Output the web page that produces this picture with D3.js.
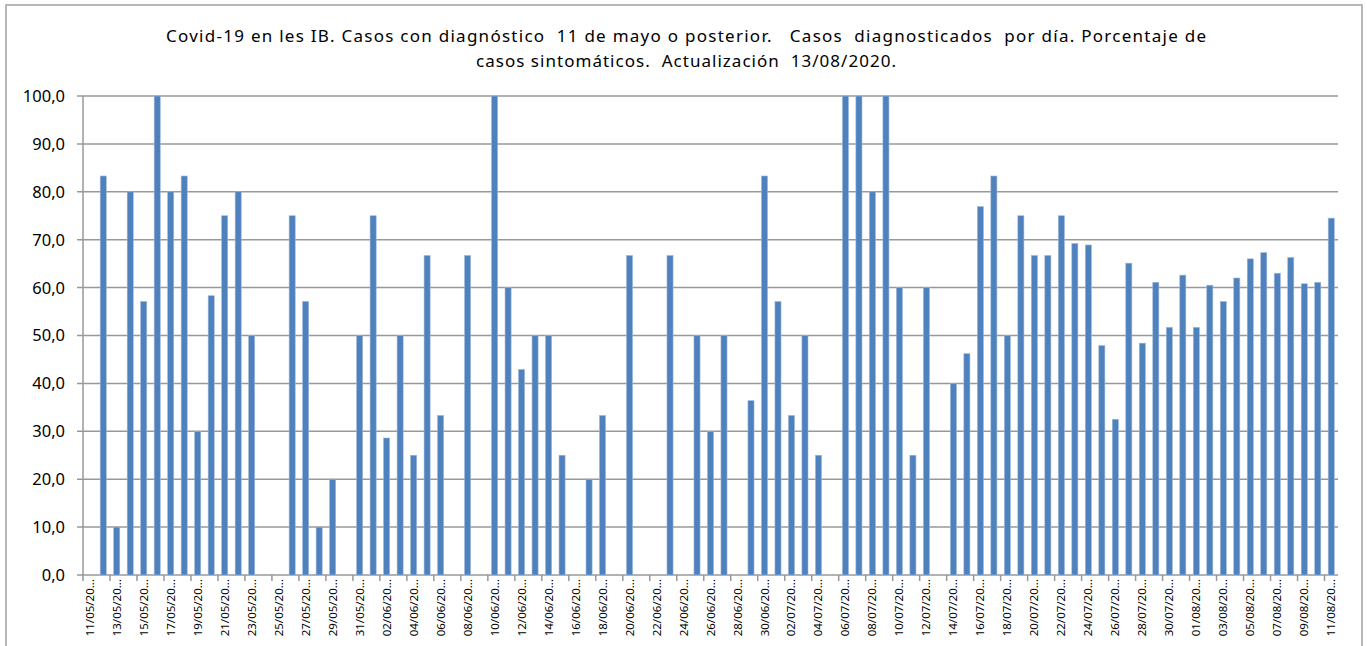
<!DOCTYPE html>
<html>
<head>
<meta charset="utf-8">
<script src="https://cdn.jsdelivr.net/npm/d3@7"></script>
<style>
body { margin:0; background:#fff; }
svg text { font-family:"Noto Sans", "Open Sans", sans-serif; fill:#000; }
</style>
</head>
<body>
<div id="main"></div>
<script>
// fechas 11/05 -> 11/08 (un dia por barra)
const months = [["05",11,31],["06",1,30],["07",1,31],["08",1,11]]
const dias = []
months.forEach(m => {
    for (let d=m[1]; d<=m[2]; d++) dias.push((d<10?"0":"")+d+"/"+m[0])
})

// porcentaje de sintomaticos, null = sin barra
const valores = [
    null,83.3,10,80,57.1,100,80,83.3,30,58.3,75,80,50,null,null,75,57.1,10,20,null,50,
    75,28.6,50,25,66.7,33.3,null,66.7,null,100,60,42.9,50,50,25,null,20,33.3,null,
    66.7,null,null,66.7,null,50,30,50,null,36.4,83.3,
    57.1,33.3,50,25,null,100,100,80,100,60,25,60,null,40,46.2,76.9,83.3,50,75,66.7,
    66.7,75,69.2,68.9,47.9,32.5,65.1,48.4,61.1,51.7,62.6,
    51.7,60.5,57.1,62,66,67.3,63,66.3,60.8,61.1,74.5
]

const yTicks = [0,10,20,30,40,50,60,70,80,90,100]

const titulo = [
    "Covid-19 en les IB. Casos con diagnóstico  11 de mayo o posterior.   Casos  diagnosticados  por día. Porcentaje de",
    "casos sintomáticos.  Actualización  13/08/2020."
]
const anchoTitulo = [1040, 420]

const W = 1367, H = 646
const m = {left:83, right:1338, top:96, bottom:575}

let svg = d3.select("#main").append("svg").attr("width",W).attr("height",H)

// marco exterior
svg.append("rect")
    .attr("x",6).attr("y",5).attr("width",1356).attr("height",700)
    .attr("fill","none").attr("stroke","#a0a0a0").attr("stroke-width",1.5)

svg.selectAll(".tit")
    .data(titulo)
    .enter()
    .append("text")
    .attr("x",686)
    .attr("y",(d,i)=>42+i*25)
    .attr("text-anchor","middle")
    .attr("textLength",(d,i)=>anchoTitulo[i])
    .attr("lengthAdjust","spacing")
    .style("font-size","17px")
    .style("white-space","pre")
    .text(d=>d)

let x = d3.scaleBand().domain(d3.range(dias.length)).range([m.left,m.right]).paddingInner(0.55).paddingOuter(0.275)
let xs = d3.scaleBand().domain(d3.range(dias.length)).range([m.left,m.right])
let y = d3.scaleLinear().domain([0,100]).range([m.bottom,m.top])

// rejilla
svg.append("g").selectAll("line")
    .data(yTicks)
    .enter()
    .append("line")
    .attr("x1",m.left-6).attr("x2",m.right)
    .attr("y1",d=>y(d)).attr("y2",d=>y(d))
    .attr("stroke","#989898").attr("stroke-width",1.5)

svg.append("g").selectAll("text")
    .data(yTicks)
    .enter()
    .append("text")
    .attr("x",65)
    .attr("y",d=>y(d))
    .attr("dy","0.36em")
    .attr("text-anchor","end")
    .style("font-size","16.5px")
    .text(d=>d3.format(".1f")(d).replace(".",","))

// barras
svg.append("g").selectAll("rect")
    .data(valores.map((v,i)=>({i:i,v:v})).filter(d=>d.v!=null))
    .enter()
    .append("rect")
    .attr("x",d=>x(d.i))
    .attr("width",x.bandwidth())
    .attr("y",d=>y(d.v))
    .attr("height",d=>y(0)-y(d.v))
    .attr("fill","#4f81bd")
    .attr("stroke","#9bb7dc").attr("stroke-width",0.6)

// eje y
svg.append("line")
    .attr("x1",m.left).attr("x2",m.left).attr("y1",m.top).attr("y2",m.bottom)
    .attr("stroke","#989898").attr("stroke-width",1.5)

// marcas eje x cada 2 dias
let marcas = d3.range(0,dias.length+1,2)
svg.append("g").selectAll("line")
    .data(marcas)
    .enter()
    .append("line")
    .attr("x1",d=>m.left+d*xs.step()).attr("x2",d=>m.left+d*xs.step())
    .attr("y1",m.bottom).attr("y2",m.bottom+6)
    .attr("stroke","#989898").attr("stroke-width",1.5)

svg.append("g").selectAll("text")
    .data(dias.map((d,i)=>({d:d,i:i})).filter(d=>d.i%2==0))
    .enter()
    .append("text")
    .attr("transform",d=>"translate("+(xs(d.i)+xs.bandwidth()/2)+","+(m.bottom+4)+") rotate(-90)")
    .attr("dy","0.35em")
    .attr("text-anchor","end")
    .style("font-size","11.5px")
    .text(d=>d.d+"/20...")
</script>
</body>
</html>
